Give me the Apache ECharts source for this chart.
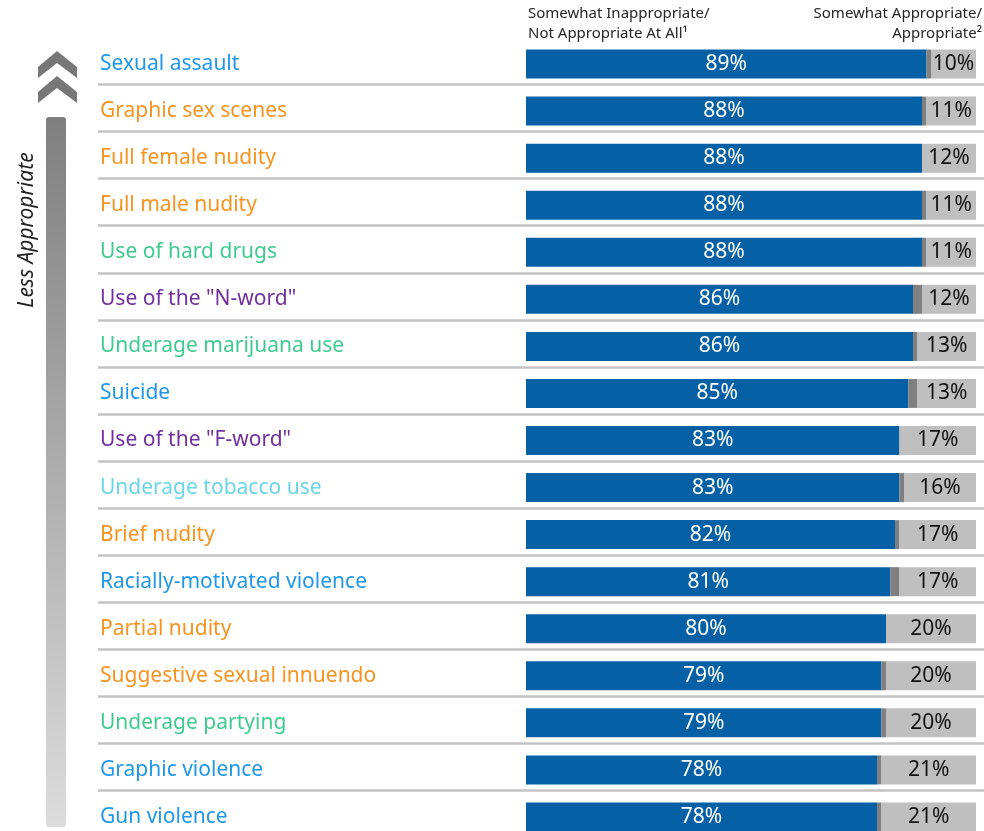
<!DOCTYPE html>
<html>
<head>
<meta charset="utf-8">
<script src="https://cdn.jsdelivr.net/npm/echarts@6/dist/echarts.min.js"></script>
<style>
  html, body { margin: 0; padding: 0; background: #fff; }
  #main { width: 984px; height: 831px; }
</style>
</head>
<body>
<div id="main"></div>
<script>
// categories, top to bottom
var categories = [
  'Sexual assault', 'Graphic sex scenes', 'Full female nudity', 'Full male nudity',
  'Use of hard drugs', 'Use of the "N-word"', 'Underage marijuana use', 'Suicide',
  'Use of the "F-word"', 'Underage tobacco use', 'Brief nudity',
  'Racially-motivated violence', 'Partial nudity', 'Suggestive sexual innuendo',
  'Underage partying', 'Graphic violence', 'Gun violence'
];
// somewhat inappropriate / not appropriate at all
var inappropriate = [89, 88, 88, 88, 88, 86, 86, 85, 83, 83, 82, 81, 80, 79, 79, 78, 78];
// no answer (small grey piece)
var noAnswer = [1, 1, 0, 1, 1, 2, 1, 2, 0, 1, 1, 2, 0, 1, 1, 1, 1];
// somewhat appropriate / appropriate
var appropriate = [10, 11, 12, 11, 11, 12, 13, 13, 17, 16, 17, 17, 20, 20, 20, 21, 21];

// label colour group of each category
var labelGroup = ['b', 'o', 'o', 'o', 'g', 'p', 'g', 'b', 'p', 'c', 'o', 'b', 'o', 'o', 'g', 'b', 'b'];

var FONT = '"Noto Sans", sans-serif';
var chart = echarts.init(document.getElementById('main'));

var rich = {
  b: { color: '#1f97ea', fontSize: 21, fontFamily: FONT },
  o: { color: '#f7931e', fontSize: 21, fontFamily: FONT },
  g: { color: '#3fcb8e', fontSize: 21, fontFamily: FONT },
  p: { color: '#7030a0', fontSize: 21, fontFamily: FONT },
  c: { color: '#6ad6e6', fontSize: 21, fontFamily: FONT }
};

chart.setOption({
  animation: false,
  grid: [
    { left: 526, right: 8, top: 40.5, height: 800, outerBoundsMode: 'none' },
    { left: 98, right: 0, top: 37.5, height: 800, outerBoundsMode: 'none' }
  ],
  xAxis: [
    { gridIndex: 0, type: 'value', min: 0, max: 100, show: false },
    { gridIndex: 1, type: 'value', min: 0, max: 100, show: false }
  ],
  yAxis: [
    {
      gridIndex: 0,
      type: 'category',
      inverse: true,
      data: categories,
      axisLine: { show: false },
      axisTick: { show: false },
      splitLine: { show: false },
      axisLabel: {
        align: 'left',
        margin: 426,
        formatter: function (v, i) {
          return '{' + labelGroup[i] + '|' + v + '}';
        },
        rich: rich
      }
    },
    {
      gridIndex: 1,
      type: 'category',
      inverse: true,
      data: categories,
      axisLine: { show: false },
      axisTick: { show: false },
      axisLabel: { show: false },
      splitLine: {
        show: true,
        showMinLine: false,
        showMaxLine: false,
        lineStyle: { color: '#c3c3c3', width: 2.5 }
      }
    }
  ],
  series: [
    {
      name: 'Somewhat Inappropriate/Not Appropriate At All',
      type: 'bar',
      stack: 'total',
      barWidth: 29,
      data: inappropriate,
      itemStyle: { color: '#0560a6' },
      label: {
        show: true,
        position: 'inside',
        formatter: '{c}%',
        color: '#fff',
        fontSize: 21,
        fontFamily: FONT
      }
    },
    {
      name: 'No answer',
      type: 'bar',
      stack: 'total',
      barWidth: 29,
      data: noAnswer,
      itemStyle: { color: '#808080' }
    },
    {
      name: 'Somewhat Appropriate/Appropriate',
      type: 'bar',
      stack: 'total',
      barWidth: 29,
      data: appropriate,
      itemStyle: { color: '#bfbfbf' },
      label: {
        show: true,
        position: 'inside',
        formatter: '{c}%',
        color: '#111',
        fontSize: 21,
        fontFamily: FONT
      }
    }
  ],
  graphic: [
    {
      type: 'text',
      x: 528,
      y: 4,
      style: {
        text: 'Somewhat Inappropriate/\nNot Appropriate At All\u00b9',
        font: '15px ' + FONT,
        fill: '#262626',
        lineHeight: 20
      }
    },
    {
      type: 'text',
      x: 982,
      y: 4,
      style: {
        text: 'Somewhat Appropriate/\nAppropriate\u00b2',
        font: '15px ' + FONT,
        fill: '#262626',
        align: 'right',
        lineHeight: 20
      }
    },
    // chevrons
    {
      type: 'polygon',
      shape: { points: [[57, 51], [77, 67], [77, 78], [57, 63], [38, 78], [38, 67]] },
      style: { fill: '#777' }
    },
    {
      type: 'polygon',
      shape: { points: [[57, 76], [77, 92], [77, 103], [57, 88], [38, 103], [38, 92]] },
      style: { fill: '#777' }
    },
    // gradient bar
    {
      type: 'rect',
      shape: { x: 46, y: 117, width: 20, height: 710, r: 3 },
      style: {
        fill: new echarts.graphic.LinearGradient(0, 0, 0, 1, [
          { offset: 0, color: '#7f7f7f' },
          { offset: 1, color: '#dcdcdc' }
        ])
      }
    },
    {
      type: 'text',
      x: 27,
      y: 230,
      rotation: Math.PI / 2,
      style: {
        text: 'Less Appropriate',
        font: 'italic 21px ' + FONT,
        fill: '#222',
        align: 'center',
        verticalAlign: 'middle'
      }
    }
  ]
});
</script>
</body>
</html>
